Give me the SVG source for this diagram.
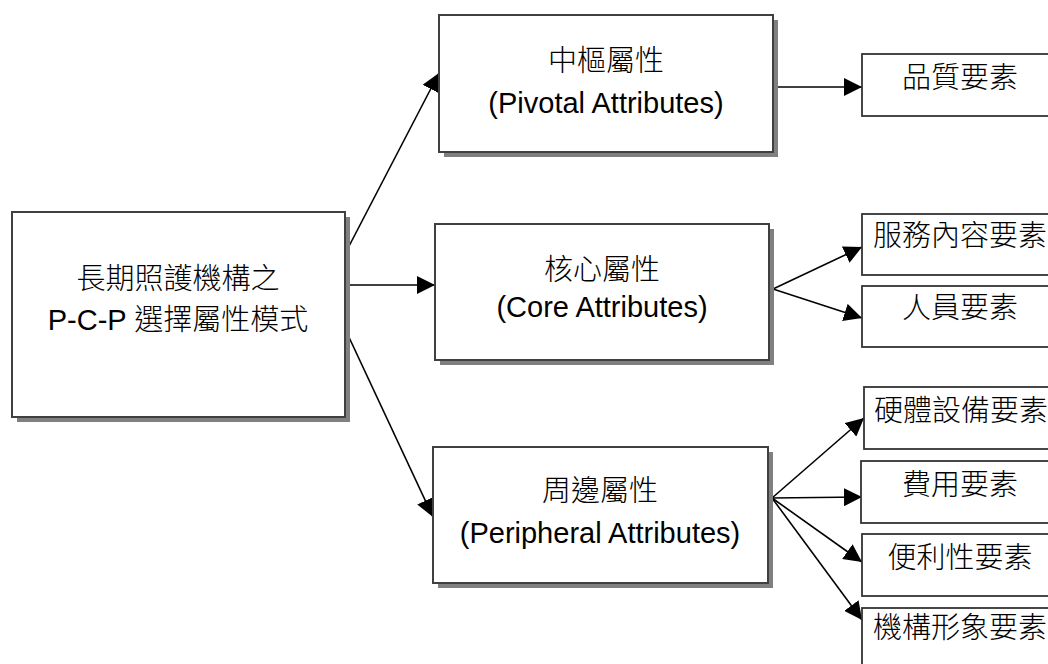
<svg xmlns="http://www.w3.org/2000/svg" width="1048" height="664" viewBox="0 0 1048 664">
<style>
.bx{fill:#fff;stroke:#404040;stroke-width:2}
.sh{fill:#808080}
.rb{fill:#fff;stroke:#333;stroke-width:1.8}
.t{font-family:"Liberation Sans","Noto Sans CJK TC",sans-serif;font-size:29px;font-weight:300;fill:#000;text-anchor:middle}
.c{fill:none;stroke:#000;stroke-width:1.6}
</style>
<defs>
<marker id="ah" markerUnits="userSpaceOnUse" markerWidth="18" markerHeight="18" refX="18" refY="9" orient="auto" viewBox="0 0 18 18">
<path d="M0,0 L18,9 L0,18 z" fill="#000"/>
</marker>
</defs>
<rect width="1048" height="664" fill="#fff"/>
<g id="connectors">
<line class="c" x1="347" y1="250" x2="439" y2="73" marker-end="url(#ah)"/>
<line class="c" x1="348" y1="285" x2="435" y2="285" marker-end="url(#ah)"/>
<line class="c" x1="347" y1="333" x2="433" y2="517" marker-end="url(#ah)"/>
<line class="c" x1="778" y1="87" x2="862" y2="87" marker-end="url(#ah)"/>
<line class="c" x1="773" y1="289" x2="862" y2="247" marker-end="url(#ah)"/>
<line class="c" x1="773" y1="289" x2="862" y2="318" marker-end="url(#ah)"/>
<line class="c" x1="772" y1="498" x2="864" y2="418" marker-end="url(#ah)"/>
<line class="c" x1="772" y1="498" x2="862" y2="497" marker-end="url(#ah)"/>
<line class="c" x1="772" y1="498" x2="862" y2="562" marker-end="url(#ah)"/>
<line class="c" x1="772" y1="498" x2="862" y2="620" marker-end="url(#ah)"/>
</g>
<g id="root">
<rect class="sh" x="17" y="217" width="333" height="205"/>
<rect class="bx" x="12" y="212" width="333" height="205"/>
<text class="t" x="178" y="289">長期照護機構之</text>
<text class="t" x="178" y="330">P-C-P 選擇屬性模式</text>
</g>
<g id="pivotal">
<rect class="sh" x="444" y="20" width="334" height="137"/>
<rect class="bx" x="439" y="15" width="334" height="137"/>
<text class="t" x="606" y="71">中樞屬性</text>
<text class="t" x="606" y="113">(Pivotal Attributes)</text>
</g>
<g id="core">
<rect class="sh" x="440" y="229" width="334" height="136"/>
<rect class="bx" x="435" y="224" width="334" height="136"/>
<text class="t" x="602" y="280">核心屬性</text>
<text class="t" x="602" y="317">(Core Attributes)</text>
</g>
<g id="peripheral">
<rect class="sh" x="438" y="452" width="335" height="136"/>
<rect class="bx" x="433" y="447" width="335" height="136"/>
<text class="t" x="600" y="501">周邊屬性</text>
<text class="t" x="600" y="543">(Peripheral Attributes)</text>
</g>
<g id="quality">
<rect class="rb" x="862" y="54" width="200" height="62"/>
<text class="t" x="960" y="88">品質要素</text>
</g>
<g id="service">
<rect class="rb" x="862" y="214" width="200" height="61"/>
<text class="t" x="960" y="246">服務內容要素</text>
</g>
<g id="personnel">
<rect class="rb" x="862" y="286" width="200" height="61"/>
<text class="t" x="960" y="318">人員要素</text>
</g>
<g id="hardware">
<rect class="rb" x="864" y="387" width="200" height="62"/>
<text class="t" x="961" y="421">硬體設備要素</text>
</g>
<g id="fee">
<rect class="rb" x="861" y="461" width="200" height="62"/>
<text class="t" x="960" y="495">費用要素</text>
</g>
<g id="convenience">
<rect class="rb" x="862" y="534" width="200" height="62"/>
<text class="t" x="960" y="568">便利性要素</text>
</g>
<g id="image">
<rect class="rb" x="862" y="608" width="200" height="70"/>
<text class="t" x="960" y="638">機構形象要素</text>
</g>
</svg>
